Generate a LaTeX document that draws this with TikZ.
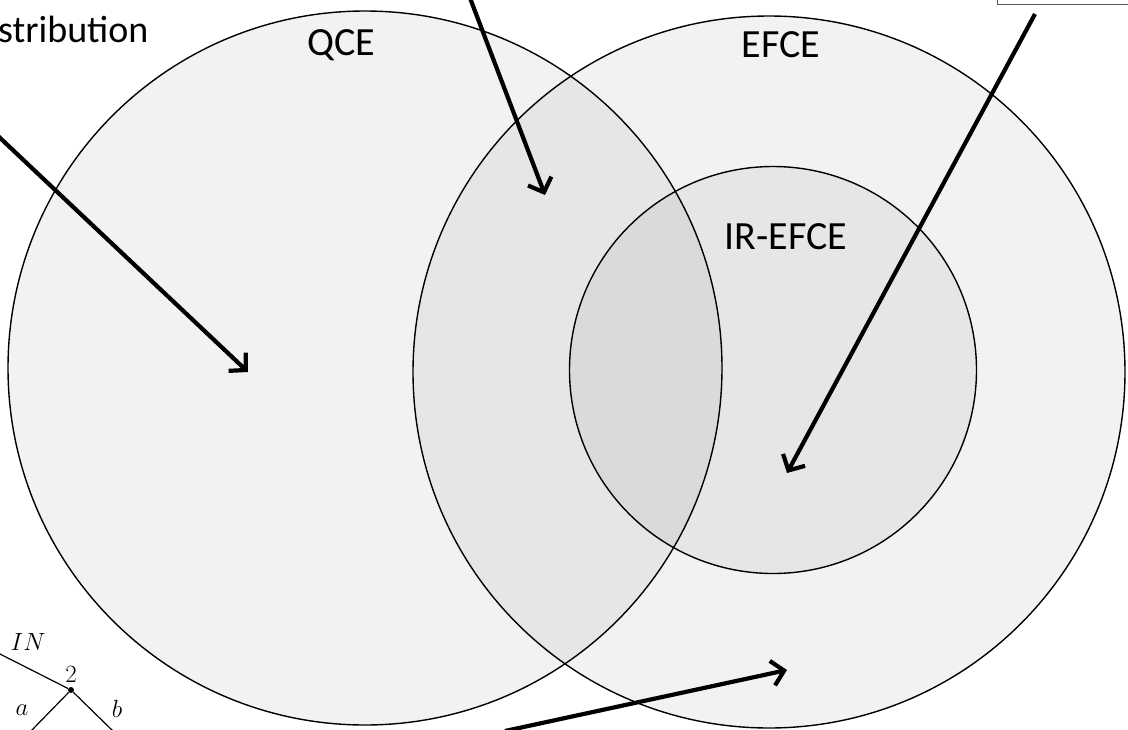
\documentclass[tikz,border=0pt]{standalone}
\usepackage{fontspec}
\setmainfont{Carlito}
\usetikzlibrary{arrows.meta}

\begin{document}
\begin{tikzpicture} [x = 1pt, y = -1pt,
		set/.style = {circle, draw, line width = 1.4pt, fill = black, fill opacity = .05, inner sep = 0pt, minimum size = #1},
		arr/.style = {line width = 4.2pt, -{Straight Barb[length = 12pt, width = 25pt, line width = 4.2pt]}},
		lbl/.style = {font = \fontsize{40}{42}\selectfont, inner sep = 0pt},
		tlbl/.style = {font = \fontsize{28}{30}\selectfont, inner sep = 0pt}]
			\useasboundingbox (0,0) rectangle (1128,729);
			\clip (0,0) rectangle (1128,729);
			
			% the three sets
			\node[set = 714pt] (qce) at (365,368) {};
			\node[set = 712pt] (efce) at (769,372) {};
			\node[set = 407pt] (iref) at (773,370) {};
			
			\node[lbl] (qcelbl) at (341,45) {QCE};
			\node[lbl] (efcelbl) at (781,45) {EFCE};
			\node[lbl] (ireflbl) at (786,237) {IR-EFCE};
			\node[lbl, font = \fontsize{38}{40}\selectfont, anchor = base west] (distr) at (-2,42) {stribution};
			
			% box cut off at the top right
			\node[draw = black!65, line width = 1.3pt, minimum width = 200pt, minimum height = 40pt, anchor = south west] (box) at (997,5) {};
			
			% arrows
			\coordinate (s1) at (470,-2);
			\coordinate (e1) at (545,195);
			\coordinate (s2) at (-2,136);
			\coordinate (e2) at (248,372);
			\coordinate (s3) at (1035,14);
			\coordinate (e3) at (787,473);
			\coordinate (s4) at (505,731);
			\coordinate (e4) at (787,670);
			\draw[arr] (s1) to (e1);
			\draw[arr] (s2) to (e2);
			\draw[arr] (s3) to (e3);
			\draw[arr] (s4) to (e4);
			
			% small game tree, bottom left
			\coordinate (root) at (-4,652);
			\node[circle, fill, inner sep = 0pt, minimum size = 6pt] (p2) at (71,690) {};
			\coordinate (la) at (30,732);
			\coordinate (lb) at (114,732);
			\draw[line width = 1.2pt] (root) -- (p2) -- (la);
			\draw[line width = 1.2pt] (p2) -- (lb);
			\node[tlbl] (in) at (28,642) {$IN$};
			\node[tlbl] (two) at (71,674) {$2$};
			\node[tlbl] (a) at (22,710) {$a$};
			\node[tlbl] (b) at (117,709) {$b$};
		\end{tikzpicture}
\end{document}
